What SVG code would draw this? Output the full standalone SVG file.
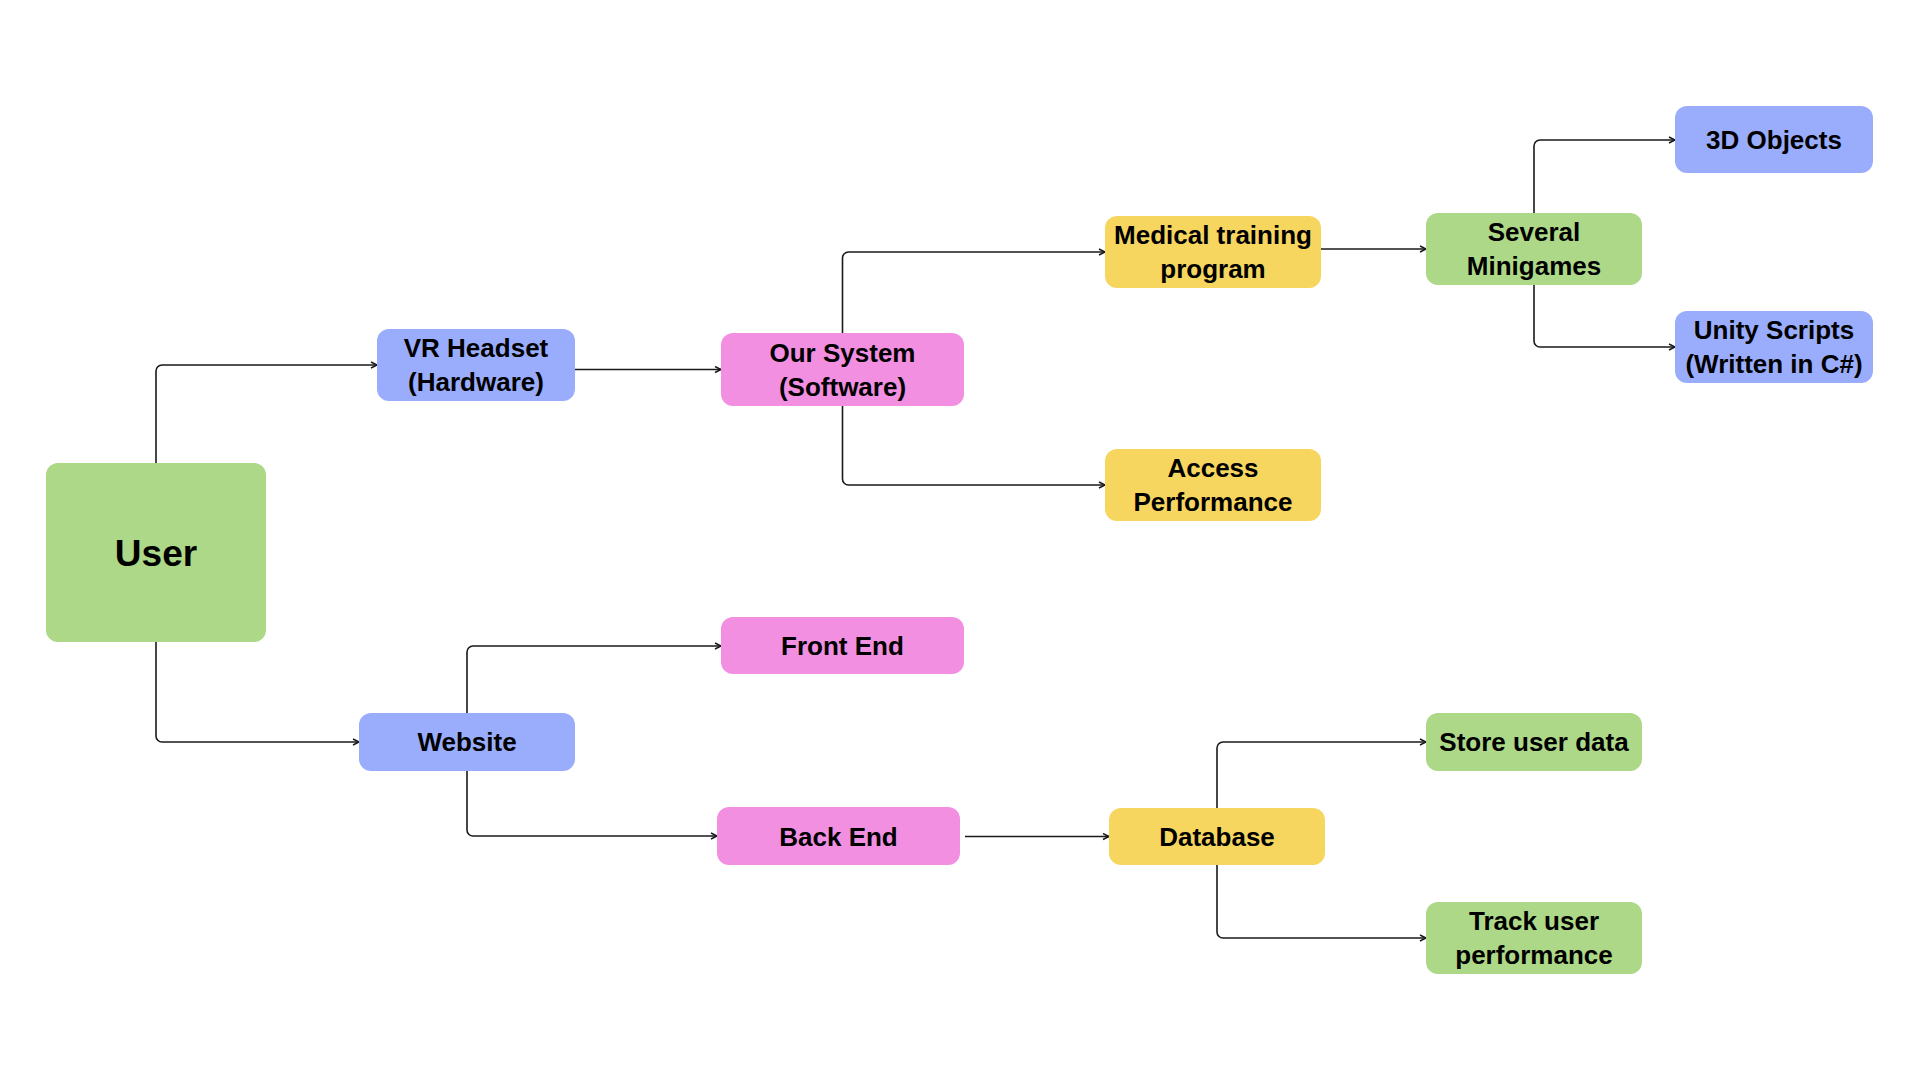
<svg xmlns="http://www.w3.org/2000/svg" width="1920" height="1080" viewBox="0 0 1920 1080">
<style>
.node text{font-family:"Liberation Sans",Arial,sans-serif;font-weight:bold;font-size:26px;fill:#000;text-anchor:middle}
.green{fill:#acd887}.blue{fill:#9aadfd}.pink{fill:#f38fe1}.yellow{fill:#f6d65e}
.conn path{fill:none;stroke:#1a1a1a;stroke-width:1.6}
</style>
<defs>
<marker id="arr" markerUnits="userSpaceOnUse" markerWidth="10" markerHeight="10" refX="7" refY="4" orient="auto">
<path d="M1,1 L7,4 L1,7" fill="none" stroke="#1a1a1a" stroke-width="1.5"/>
</marker>
</defs>
<rect width="1920" height="1080" fill="#fff"/>
<g id="connectors" class="conn">
<path d="M156 463 V371 A6 6 0 0 1 162 365 H377" marker-end="url(#arr)"/>
<path d="M156 642 V736 A6 6 0 0 0 162 742 H359" marker-end="url(#arr)"/>
<path d="M575 369.5 H721" marker-end="url(#arr)"/>
<path d="M842.5 333 V258 A6 6 0 0 1 848.5 252 H1105" marker-end="url(#arr)"/>
<path d="M842.5 406 V479 A6 6 0 0 0 848.5 485 H1105" marker-end="url(#arr)"/>
<path d="M1321 249 H1426" marker-end="url(#arr)"/>
<path d="M1534 213 V146 A6 6 0 0 1 1540 140 H1675" marker-end="url(#arr)"/>
<path d="M1534 285 V341 A6 6 0 0 0 1540 347 H1675" marker-end="url(#arr)"/>
<path d="M467 713 V652 A6 6 0 0 1 473 646 H721" marker-end="url(#arr)"/>
<path d="M467 771 V830 A6 6 0 0 0 473 836 H717" marker-end="url(#arr)"/>
<path d="M965 836.5 H1109" marker-end="url(#arr)"/>
<path d="M1217 808 V748 A6 6 0 0 1 1223 742 H1426" marker-end="url(#arr)"/>
<path d="M1217 865 V932 A6 6 0 0 0 1223 938 H1426" marker-end="url(#arr)"/>
</g>
<g id="user" class="node"><rect class="green" x="46" y="463" width="220" height="179" rx="12"/><text x="156" y="566" style="font-size:37px">User</text></g>
<g id="vr-headset" class="node"><rect class="blue" x="377" y="329" width="198" height="72" rx="12"/><text x="476" y="357">VR Headset</text><text x="476" y="391">(Hardware)</text></g>
<g id="our-system" class="node"><rect class="pink" x="721" y="333" width="243" height="73" rx="12"/><text x="842.5" y="361.5">Our System</text><text x="842.5" y="395.5">(Software)</text></g>
<g id="medical-training" class="node"><rect class="yellow" x="1105" y="216" width="216" height="72" rx="12"/><text x="1213" y="244">Medical training</text><text x="1213" y="278">program</text></g>
<g id="access-performance" class="node"><rect class="yellow" x="1105" y="449" width="216" height="72" rx="12"/><text x="1213" y="477">Access</text><text x="1213" y="511">Performance</text></g>
<g id="several-minigames" class="node"><rect class="green" x="1426" y="213" width="216" height="72" rx="12"/><text x="1534" y="241">Several</text><text x="1534" y="275">Minigames</text></g>
<g id="objects-3d" class="node"><rect class="blue" x="1675" y="106" width="198" height="67" rx="12"/><text x="1774" y="149">3D Objects</text></g>
<g id="unity-scripts" class="node"><rect class="blue" x="1675" y="311" width="198" height="72" rx="12"/><text x="1774" y="339">Unity Scripts</text><text x="1774" y="373">(Written in C#)</text></g>
<g id="front-end" class="node"><rect class="pink" x="721" y="617" width="243" height="57" rx="12"/><text x="842.5" y="655">Front End</text></g>
<g id="website" class="node"><rect class="blue" x="359" y="713" width="216" height="58" rx="12"/><text x="467" y="751">Website</text></g>
<g id="back-end" class="node"><rect class="pink" x="717" y="807" width="243" height="58" rx="12"/><text x="838.5" y="845.5">Back End</text></g>
<g id="database" class="node"><rect class="yellow" x="1109" y="808" width="216" height="57" rx="12"/><text x="1217" y="846">Database</text></g>
<g id="store-user-data" class="node"><rect class="green" x="1426" y="713" width="216" height="58" rx="12"/><text x="1534" y="751">Store user data</text></g>
<g id="track-user-performance" class="node"><rect class="green" x="1426" y="902" width="216" height="72" rx="12"/><text x="1534" y="930">Track user</text><text x="1534" y="964">performance</text></g>
</svg>
